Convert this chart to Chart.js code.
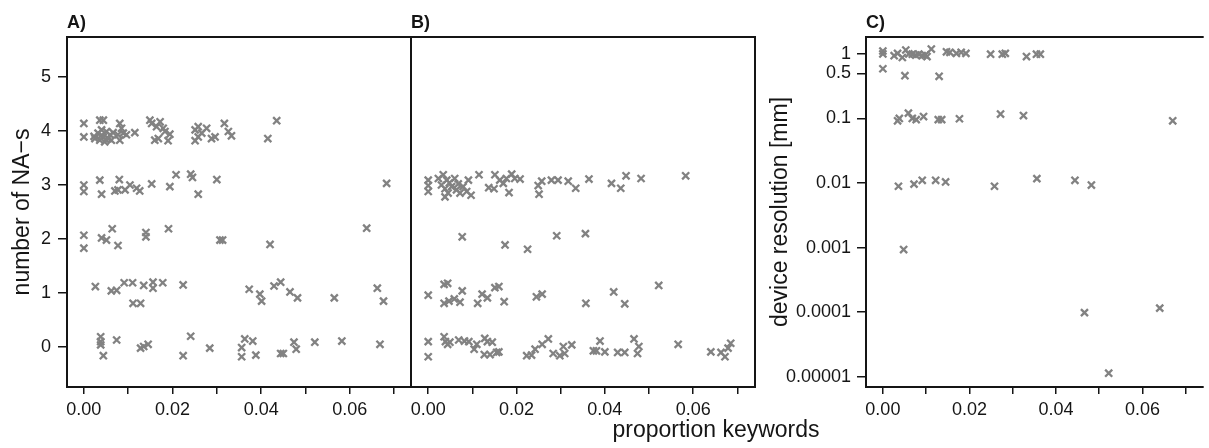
<!DOCTYPE html>
<html>
<head>
<meta charset="utf-8">
<script src="https://cdn.jsdelivr.net/npm/chart.js@4.4.1/dist/chart.umd.min.js"></script>
<style>
  html, body { margin: 0; padding: 0; background: #fff; }
  #wrap { position: relative; width: 1209px; height: 448px; }
  #wrap canvas { position: absolute; left: 0; top: 0; }
</style>
</head>
<body>
<div id="wrap">
  <canvas id="panelA" width="1209" height="448"></canvas>
  <canvas id="panelB" width="1209" height="448"></canvas>
  <canvas id="panelC" width="1209" height="448"></canvas>
</div>
<script>
// tick values / labels
const xTickValues = [0, 0.01, 0.02, 0.03, 0.04, 0.05, 0.06, 0.07];
const xTickLabels = ['0.00', '', '0.02', '', '0.04', '', '0.06', ''];
const naTickValues = [0, 1, 2, 3, 4, 5];
const naTickLabels = ['0', '1', '2', '3', '4', '5'];
const resTickValues = [1, 0.5, 0.1, 0.01, 0.001, 0.0001, 0.00001];
const resTickLabels = ['1', '0.5', '0.1', '0.01', '0.001', '0.0001', '0.00001'];

// A) proportion keywords vs number of NA-s
const aX = [
  0, 0, 0.0023, 0.0036, 0.0044,
  0.0025, 0.0032, 0.0036, 0.004, 0.0044, 0.0047, 0.0051, 0.0055, 0.0059, 0.0062, 0.004, 0.005, 0.0066,
  0.0081, 0.0085, 0.0089, 0.0081, 0.0077, 0.0096, 0.0115,
  0.0149, 0.0153, 0.0172, 0.0164, 0.0179, 0.0183, 0.0194, 0.016, 0.0168, 0.019,
  0.0251, 0.0258, 0.0266, 0.0251, 0.0258, 0.0277, 0.0288, 0.0296, 0.0317, 0.0326, 0.0333, 0.0415, 0.0435,
  0, 0, 0.0036, 0.004, 0.008, 0.007, 0.0077, 0.0093, 0.0104, 0.0119, 0.0126, 0.0153, 0.0194, 0.0208,
  0.0241, 0.0245, 0.0258, 0.03, 0.0683,
  0, 0, 0.004, 0.0051, 0.0064, 0.0077, 0.014, 0.014, 0.0191, 0.0307, 0.0313, 0.042, 0.0638,
  0.0026, 0.0062, 0.0074, 0.0091, 0.011, 0.0135, 0.0156, 0.0156, 0.0178, 0.0224, 0.0111, 0.0128,
  0.0373, 0.0397, 0.0401, 0.0429, 0.0444, 0.0465, 0.0482, 0.0565, 0.0662, 0.0676,
  0.0038, 0.0038, 0.0038, 0.0044, 0.0074, 0.0128, 0.0135, 0.0145, 0.0224, 0.0241, 0.0284, 0.0356,
  0.0356, 0.0363, 0.0381, 0.0388, 0.0444, 0.045, 0.0474, 0.0479, 0.0521, 0.0582, 0.0668
];
const aY = [
  4.14, 3.89, 3.9, 4.2, 4.2,
  3.86, 3.96, 3.83, 4.02, 3.89, 3.8, 3.99, 3.86, 3.93, 3.83, 3.92, 3.84, 3.97,
  4.14, 4.05, 3.96, 3.83, 3.93, 3.93, 3.97,
  4.2, 4.14, 4.17, 4.08, 4.05, 3.99, 3.94, 3.83, 3.86, 3.82,
  4.02, 4.08, 3.96, 3.82, 3.89, 4.05, 3.86, 3.89, 4.14, 3.99, 3.91, 3.86, 4.19,
  3.0, 2.88, 3.09, 2.83, 3.1, 2.89, 2.91, 2.91, 3.0, 2.94, 2.89, 3.02, 2.97, 3.19,
  3.2, 3.14, 2.83, 3.1, 3.03,
  2.07, 1.83, 2.02, 1.98, 2.19, 1.88, 2.12, 2.04, 2.19, 1.98, 1.98, 1.9, 2.2,
  1.12, 1.04, 1.05, 1.19, 1.19, 1.14, 1.2, 1.09, 1.19, 1.15, 0.81, 0.81,
  1.07, 0.98, 0.85, 1.13, 1.2, 1.02, 0.91, 0.91, 1.09, 0.85,
  0.19, 0.1, 0.04, -0.16, 0.13, -0.02, 0.01, 0.05, -0.16, 0.2, -0.02, -0.18,
  -0.01, 0.15, 0.11, -0.15, -0.12, -0.12, 0.09, -0.04, 0.09, 0.11, 0.05
];

// B) proportion keywords vs number of NA-s (second set)
const bX = [
  0, 0, 0, 0.0023, 0.0034, 0.0042, 0.003, 0.0038, 0.0045, 0.0038, 0.0053, 0.006, 0.0064, 0.0072,
  0.0079, 0.0087, 0.0091, 0.0097, 0.0048, 0.0068, 0.0115, 0.0151, 0.0137, 0.0149, 0.0162, 0.017,
  0.0177, 0.0189, 0.0196, 0.0183, 0.0208, 0.0249, 0.0251, 0.0257, 0.0279, 0.0294, 0.0317, 0.0334,
  0.0364, 0.0415, 0.0436, 0.0448, 0.0482, 0.0583,
  0.0077, 0.0174, 0.0225, 0.0291, 0.0356,
  0, 0.0036, 0.0044, 0.0036, 0.0047, 0.0059, 0.0072, 0.0077, 0.0112, 0.0122, 0.0134, 0.0151, 0.016,
  0.0172, 0.0245, 0.0258, 0.0357, 0.042, 0.0445, 0.0522,
  0, 0, 0.0036, 0.0039, 0.0044, 0.0049, 0.0069, 0.0082, 0.0092, 0.0104, 0.011, 0.0128, 0.0134,
  0.0145, 0.0127, 0.014, 0.0155, 0.016, 0.0223, 0.0234, 0.0242, 0.0258, 0.0272, 0.0283, 0.0298,
  0.0309, 0.0306, 0.0325, 0.0374, 0.0381, 0.0389, 0.04, 0.0429, 0.0445, 0.0466, 0.0477, 0.0474,
  0.0566, 0.064, 0.0663, 0.0672, 0.0679, 0.0685
];
const bY = [
  3.09, 2.99, 2.88, 3.12, 3.19, 3.09, 3.0, 2.93, 2.85, 2.78, 2.97, 3.12, 2.91, 2.85,
  2.97, 2.88, 3.09, 2.81, 3.04, 3.02, 3.19, 3.19, 2.95, 2.93, 3.09, 3.03,
  3.12, 3.2, 3.12, 2.86, 3.11, 2.99, 2.83, 3.07, 3.09, 3.09, 3.07, 2.94,
  3.11, 3.03, 2.94, 3.17, 3.12, 3.17,
  2.04, 1.89, 1.81, 2.06, 2.1,
  0.96, 1.16, 1.18, 0.81, 0.85, 0.89, 0.83, 1.04, 0.81, 0.98, 0.91, 1.1, 1.12,
  0.84, 0.93, 0.98, 0.81, 1.02, 0.8, 1.14,
  0.1, -0.18, 0.19, 0.1, 0.05, 0.09, 0.13, 0.11, 0.1, -0.04, 0.05, 0.16, 0.1,
  0.09, -0.14, -0.14, -0.1, -0.09, -0.16, -0.15, -0.04, 0.05, 0.15, -0.12, -0.16,
  -0.12, 0.01, 0.04, -0.07, -0.07, 0.11, -0.09, -0.1, -0.1, 0.15, 0.01, -0.12,
  0.05, -0.09, -0.1, -0.18, -0.02, 0.07
];

// C) proportion keywords vs device resolution [mm]
const cX = [
  0, 0, 0.0026, 0.0034, 0.0045, 0.0053, 0.006, 0.0068, 0.0076, 0.0083, 0.0091, 0.0098, 0.0102,
  0.0112, 0.0147, 0.0155, 0.017, 0.0181, 0.0192, 0.0249, 0.0276, 0.0283, 0.0332, 0.0355, 0.0364,
  0, 0.0051, 0.013,
  0.0034, 0.0038, 0.0059, 0.0068, 0.0077, 0.0094, 0.0128, 0.0136, 0.0177, 0.0272, 0.0325, 0.067,
  0.0036, 0.0072, 0.0091, 0.0122, 0.0145, 0.0258, 0.0356, 0.0444, 0.0482,
  0.0048, 0.0466, 0.0522, 0.064
];
const cY = [
  1.11, 1.0, 0.94, 1.02, 0.88, 1.15, 1.0, 0.99, 0.96, 0.99, 0.94, 0.96, 0.91,
  1.19, 1.08, 1.06, 1.02, 1.06, 1.02, 0.99, 0.99, 1.02, 0.91, 0.99, 0.99,
  0.59, 0.46, 0.45,
  0.092, 0.1, 0.121, 0.1, 0.096, 0.107, 0.096, 0.096, 0.099, 0.117, 0.111, 0.092,
  0.0089, 0.0096, 0.011, 0.011, 0.0104, 0.0089, 0.0117, 0.011, 0.0093,
  0.00093, 0.000098, 0.0000113, 0.000115
];

const FONT = '"Liberation Sans", Arial, Helvetica, sans-serif';
const INK = '#151515';
const MARK = '#828282';

function toPoints(xs, ys) {
  return xs.map((x, i) => ({ x: x, y: ys[i] }));
}

// frame, panel letter and axis titles drawn on top of each panel
const panelDecor = {
  id: 'panelDecor',
  afterDraw(chart, args, opts) {
    const ctx = chart.ctx;
    const a = chart.chartArea;
    ctx.save();
    ctx.strokeStyle = INK;
    ctx.lineWidth = 2;
    ctx.beginPath();
    if (opts.openRight) {
      ctx.moveTo(a.right + 2, a.top);
      ctx.lineTo(a.left, a.top);
      ctx.lineTo(a.left, a.bottom);
      ctx.lineTo(a.right + 2, a.bottom);
    } else {
      ctx.rect(a.left, a.top, a.right - a.left, a.bottom - a.top);
    }
    ctx.stroke();

    ctx.fillStyle = INK;
    ctx.font = 'bold 18px ' + FONT;
    ctx.textAlign = 'left';
    ctx.textBaseline = 'alphabetic';
    ctx.fillText(opts.letter, a.left, 28);

    ctx.font = '23px ' + FONT;
    ctx.textAlign = 'center';
    if (opts.yTitle) {
      ctx.save();
      ctx.translate(opts.yTitleX, (a.top + a.bottom) / 2);
      ctx.rotate(-Math.PI / 2);
      ctx.fillText(opts.yTitle, 0, 0);
      ctx.restore();
    }
    if (opts.xTitle) {
      ctx.fillText(opts.xTitle, opts.xTitleX, 437);
    }
    ctx.restore();
  }
};

function xScale(min, max) {
  return {
    type: 'linear',
    min: min,
    max: max,
    afterBuildTicks: s => { s.ticks = xTickValues.map(v => ({ value: v })); },
    afterFit: s => { s.height = 61; },
    grid: { drawOnChartArea: false, tickLength: 7, color: INK, lineWidth: 1.5 },
    border: { display: false },
    ticks: {
      autoSkip: false,
      maxRotation: 0,
      padding: 5,
      color: INK,
      font: { family: FONT, size: 18 },
      callback: (v, i) => xTickLabels[i]
    }
  };
}

function naScale(show) {
  return {
    type: 'linear',
    display: show,
    min: -0.74,
    max: 5.74,
    afterBuildTicks: s => { s.ticks = naTickValues.map(v => ({ value: v })); },
    afterFit: s => { s.width = show ? 67 : 0; },
    grid: { drawOnChartArea: false, tickLength: 9, color: INK, lineWidth: 1.5 },
    border: { display: false },
    ticks: {
      padding: 7,
      color: INK,
      font: { family: FONT, size: 18 },
      callback: (v, i) => naTickLabels[i]
    }
  };
}

function scatterDataset(xs, ys) {
  return {
    data: toPoints(xs, ys),
    pointStyle: 'crossRot',
    pointRadius: 5,
    pointBorderWidth: 2.3,
    pointBorderColor: MARK,
    pointBackgroundColor: MARK,
    showLine: false
  };
}

const common = {
  responsive: false,
  animation: false,
  events: [],
  devicePixelRatio: 1,
  plugins: { legend: { display: false }, tooltip: { enabled: false } }
};

new Chart(document.getElementById('panelA'), {
  type: 'scatter',
  data: { datasets: [scatterDataset(aX, aY)] },
  options: Object.assign({}, common, {
    layout: { padding: { left: 0, top: 37, right: 1209 - 411, bottom: 0 } },
    scales: { x: xScale(-0.0038, 0.0738), y: naScale(true) },
    plugins: Object.assign({}, common.plugins, {
      panelDecor: {
        letter: 'A)', yTitle: 'number of NA\u2212s', yTitleX: 28.5,
        xTitle: 'proportion keywords', xTitleX: 716
      }
    })
  }),
  plugins: [panelDecor]
});

new Chart(document.getElementById('panelB'), {
  type: 'scatter',
  data: { datasets: [scatterDataset(bX, bY)] },
  options: Object.assign({}, common, {
    layout: { padding: { left: 411, top: 37, right: 1209 - 755, bottom: 0 } },
    scales: { x: xScale(-0.0039, 0.074), y: naScale(false) },
    plugins: Object.assign({}, common.plugins, {
      panelDecor: { letter: 'B)' }
    })
  }),
  plugins: [panelDecor]
});

new Chart(document.getElementById('panelC'), {
  type: 'scatter',
  data: { datasets: [scatterDataset(cX, cY)] },
  options: Object.assign({}, common, {
    layout: { padding: { left: 766, top: 37, right: 0, bottom: 0 } },
    scales: {
      x: xScale(-0.0039, 0.0737),
      y: {
        type: 'logarithmic',
        min: 0.0000069,
        max: 1.83,
        afterBuildTicks: s => { s.ticks = resTickValues.map(v => ({ value: v })); },
        afterFit: s => { s.width = 100; },
        grid: { drawOnChartArea: false, tickLength: 9, color: INK, lineWidth: 1.5 },
        border: { display: false },
        ticks: {
          padding: 6,
          color: INK,
          font: { family: FONT, size: 18 },
          callback: (v, i) => resTickLabels[i]
        }
      }
    },
    plugins: Object.assign({}, common.plugins, {
      panelDecor: {
        letter: 'C)', openRight: true,
        yTitle: 'device resolution [mm]', yTitleX: 787
      }
    })
  }),
  plugins: [panelDecor]
});
</script>
</body>
</html>
